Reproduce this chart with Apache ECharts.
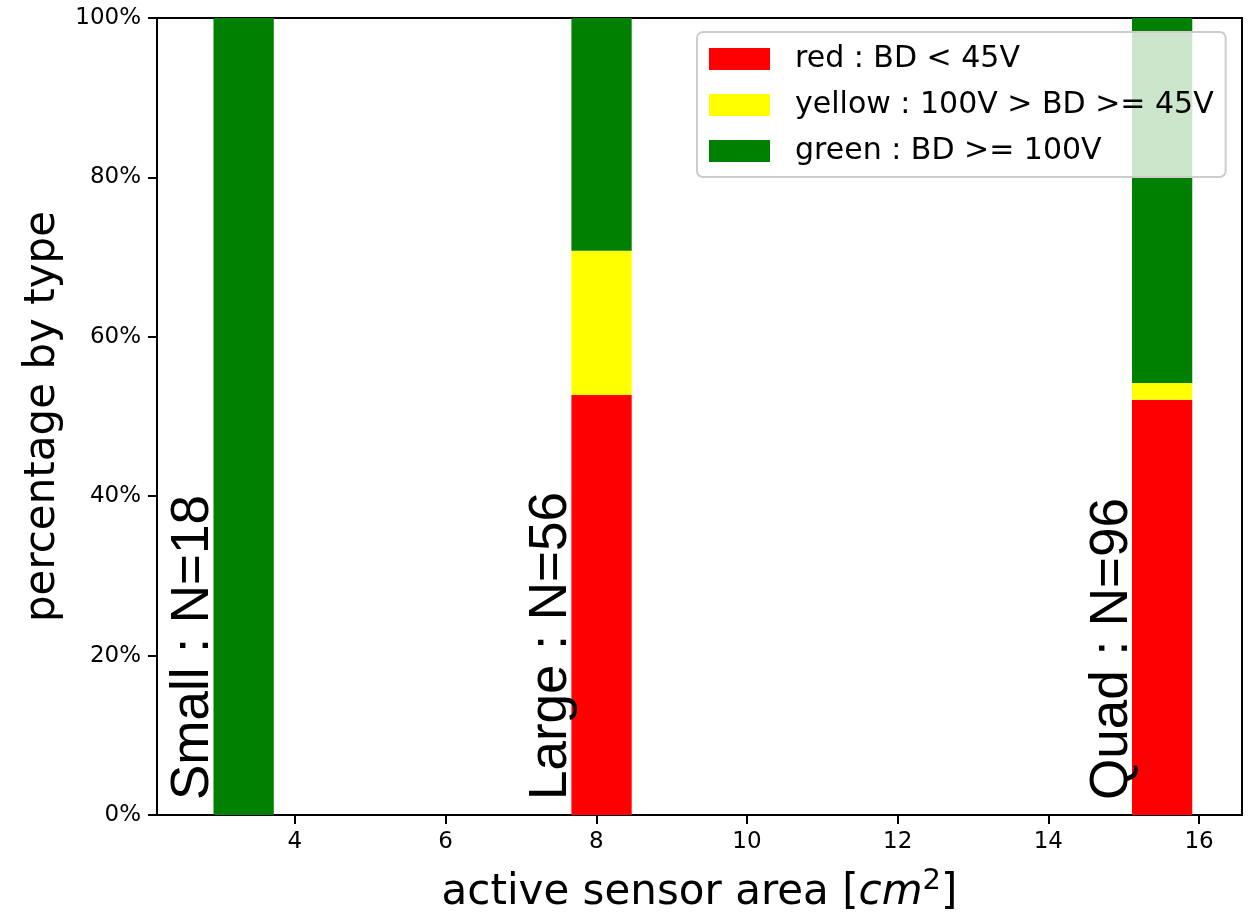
<!DOCTYPE html>
<html>
<head>
<meta charset="utf-8">
<title>Sensor breakdown by type</title>
<script src="https://cdn.jsdelivr.net/npm/echarts@6/dist/echarts.min.js"></script>
<style>
  html, body { margin: 0; padding: 0; background: #fff; overflow: hidden; }
  #chart { width: 1252px; height: 919px; }
</style>
</head>
<body>
<div id="chart"></div>
<script>
// Sensor types, their active area (cm^2) and sample counts
const sensorTypes = ['Small', 'Large', 'Quad'];
const sensorArea = [3.32, 8.07, 15.51];
const sensorCount = [18, 56, 96];

// Percentage of sensors in each breakdown-voltage class, per type
const redPct = [0, 52.7, 52.1];
const yellowPct = [0, 18.1, 2.1];
const greenPct = [100, 29.2, 45.8];

const xTicks = [4, 6, 8, 10, 12, 14, 16];
const classNames = ['red : BD < 45V', 'yellow : 100V > BD >= 45V', 'green : BD >= 100V'];
const classColors = ['#ff0000', '#ffff00', '#008000'];

const BAR_WIDTH = 0.8;

// Build stacked [area, bottom, top] rows for each class
const classPct = [redPct, yellowPct, greenPct];
const stacked = classPct.map(() => []);
sensorArea.forEach((a, i) => {
  let base = 0;
  classPct.forEach((arr, c) => {
    stacked[c].push([a, base, base + arr[i]]);
    base += arr[i];
  });
});

function renderBar(params, api) {
  const x = api.value(0), y0 = api.value(1), y1 = api.value(2);
  const p0 = api.coord([x - BAR_WIDTH / 2, y0]);
  const p1 = api.coord([x + BAR_WIDTH / 2, y1]);
  return {
    type: 'rect',
    shape: { x: p0[0], y: p1[1], width: p1[0] - p0[0], height: p0[1] - p1[1] },
    style: api.style()
  };
}

function renderTypeLabel(params, api) {
  const x = api.value(0);
  const i = params.dataIndex;
  const p = api.coord([x - BAR_WIDTH / 2, 0]);
  return {
    type: 'text',
    x: p[0] - 20,
    y: p[1] - 15,
    rotation: Math.PI / 2,
    z2: 10,
    style: {
      text: sensorTypes[i] + ' : N=' + sensorCount[i],
      fontSize: 53,
      fontFamily: 'Liberation Sans',
      fill: '#000',
      align: 'left',
      verticalAlign: 'middle'
    }
  };
}

const series = classNames.map((name, c) => ({
  name: name,
  type: 'custom',
  renderItem: renderBar,
  itemStyle: { color: classColors[c] },
  encode: { x: 0, y: [1, 2] },
  data: stacked[c],
  z: 2
}));

series.push({
  name: 'labels',
  type: 'custom',
  renderItem: renderTypeLabel,
  encode: { x: 0, y: 1 },
  data: sensorArea.map(a => [a, 0]),
  z: 5,
  silent: true
});

const chart = echarts.init(document.getElementById('chart'), null, { renderer: 'canvas', width: 1252, height: 919 });
chart.setOption({
  animation: false,
  backgroundColor: '#fff',
  textStyle: { fontFamily: 'DejaVu Sans' },
  grid: {
    left: 157, width: 1085, top: 18, height: 802,
    show: true, borderColor: '#000', borderWidth: 2, backgroundColor: 'transparent'
  },
  legend: {
    data: classNames,
    orient: 'vertical',
    left: 697,
    top: 32,
    icon: 'rect',
    itemWidth: 61,
    itemHeight: 22,
    itemGap: 16,
    padding: [12, 12, 11, 12],
    backgroundColor: 'rgba(255,255,255,0.8)',
    borderColor: '#cccccc',
    borderWidth: 2,
    borderRadius: 6,
    z: 10,
    selectedMode: false,
    textStyle: {
      fontFamily: 'DejaVu Sans',
      fontSize: 30,
      color: '#000',
      lineHeight: 22,
      padding: [0, 0, 0, 20]
    }
  },
  xAxis: {
    type: 'value',
    min: 2.17,
    max: 16.57,
    name: 'active sensor area [{i|cm}{sup|2}]',
    nameLocation: 'middle',
    nameGap: 52,
    nameTextStyle: {
      fontFamily: 'DejaVu Sans',
      fontSize: 42,
      color: '#000',
      rich: {
        i: { fontFamily: 'DejaVu Sans', fontStyle: 'italic', fontSize: 42, color: '#000' },
        sup: { fontFamily: 'DejaVu Sans', fontSize: 29, color: '#000', padding: [0, 0, 23, 0] }
      }
    },
    axisLine: { show: true, onZero: false, lineStyle: { color: '#000', width: 2 } },
    axisTick: { show: true, length: 9, customValues: xTicks, lineStyle: { color: '#000', width: 2 } },
    axisLabel: { customValues: xTicks, fontSize: 23, color: '#000', fontFamily: 'DejaVu Sans', margin: 16 },
    splitLine: { show: false }
  },
  yAxis: {
    type: 'value',
    min: 0,
    max: 100,
    interval: 20,
    name: 'percentage by type',
    nameLocation: 'middle',
    nameGap: 92,
    nameRotate: 90,
    nameTextStyle: { fontFamily: 'DejaVu Sans', fontSize: 42, color: '#000' },
    axisLine: { show: true, lineStyle: { color: '#000', width: 2 } },
    axisTick: { show: true, length: 9, lineStyle: { color: '#000', width: 2 } },
    axisLabel: { formatter: '{value}%', fontSize: 23, color: '#000', fontFamily: 'DejaVu Sans', margin: 16 },
    splitLine: { show: false }
  },
  series: series
});
</script>
</body>
</html>
